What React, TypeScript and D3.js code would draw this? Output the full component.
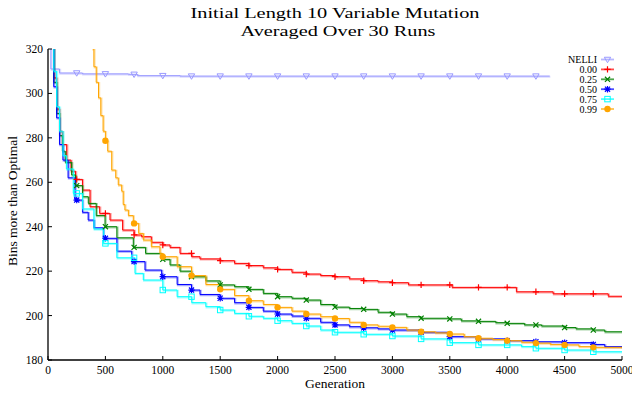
import React from "react";
import * as d3 from "d3";

const W = 632, H = 395;
const M = { left: 48, right: 622, top: 49, bottom: 360 };

const xTicks = [0, 500, 1000, 1500, 2000, 2500, 3000, 3500, 4000, 4500, 5000];
const yTicks = [180, 200, 220, 240, 260, 280, 300, 320];
const markerGens = [250, 500, 750, 1000, 1250, 1500, 1750, 2000, 2250, 2500, 2750, 3000, 3250, 3500, 3750, 4000, 4250, 4500, 4750];

const seriesNames = ["NELLI", "0.00", "0.25", "0.50", "0.75", "0.99"];
const seriesColors = ["#9999ff", "#ff0000", "#008000", "#0000ff", "#00ffff", "#ffa500"];
const seriesMarkers = ["tri", "plus", "cross", "star", "square", "circle"];

const nelliGen = [0, 25, 100, 300, 700, 780, 1150, 4370];
const nelliVal = [330, 311, 309.2, 308.8, 308.6, 308, 307.8, 307.8];

const redGen = [0, 25, 50, 75, 100, 125, 163, 200, 240, 300, 366, 450, 540, 650, 750, 816, 900, 1000, 1063, 1150, 1252, 1324, 1500, 1625, 1750, 1875, 2000, 2125, 2250, 2375, 2500, 2625, 2750, 2875, 3000, 3140, 3520, 4080, 4400, 4880, 5000];
const redVal = [345, 328, 307, 293, 283, 277, 270, 265, 261.3, 256.5, 249, 246, 243, 238.5, 236.3, 235.5, 233, 231.8, 230.7, 228, 226.5, 225.5, 224.7, 223.5, 222.5, 221.5, 220.8, 219.5, 218.7, 218, 217.5, 216.5, 215.7, 215.2, 214.8, 213.8, 212.7, 210.7, 209.8, 208.7, 208.7];

const greenGen = [0, 25, 50, 75, 100, 125, 150, 206, 240, 300, 351, 420, 497, 600, 743, 850, 990, 1063, 1150, 1250, 1375, 1500, 1625, 1750, 1875, 2000, 2125, 2250, 2375, 2500, 2625, 2750, 2875, 3000, 3125, 3250, 3500, 3600, 3750, 3900, 4000, 4150, 4300, 4500, 4600, 4750, 4850, 5000];
const greenVal = [345, 326, 305, 291, 281, 274, 269, 263.3, 258.5, 253.5, 250.5, 245, 240, 235, 230.7, 228, 225.3, 222.8, 220, 217.5, 215.6, 213.8, 213, 211.8, 210, 208.5, 207.8, 207, 205, 203.8, 203.2, 202.8, 201.5, 200.7, 199.5, 198.8, 198.5, 197.6, 197.4, 196.8, 196.5, 195.8, 195.3, 194.6, 194, 193.5, 192.7, 192.6];

const blueGen = [0, 25, 50, 75, 100, 130, 175, 235, 300, 350, 400, 482, 600, 729, 845, 990, 1125, 1250, 1324, 1500, 1625, 1750, 1875, 2000, 2125, 2250, 2375, 2500, 2625, 2750, 2875, 3000, 3250, 3500, 3750, 4000, 4250, 4500, 4750, 4850, 5000];
const blueVal = [345, 322, 303, 289, 277, 270, 262, 252, 246.5, 243, 239.5, 234.8, 229, 224.3, 220.5, 217.5, 214, 211.5, 209.5, 207.8, 205.8, 203.7, 202, 200.7, 199.8, 198.8, 197, 195.8, 195, 194.5, 194, 193.5, 192.5, 190.5, 189.5, 188.7, 188.2, 187.8, 187, 186, 185.5];

const cyanGen = [0, 25, 50, 75, 100, 130, 160, 220, 300, 400, 482, 600, 758, 830, 1000, 1125, 1252, 1375, 1500, 1625, 1750, 1875, 2000, 2125, 2250, 2375, 2491, 2750, 3000, 3250, 3500, 3750, 4000, 4125, 4250, 4500, 4750, 5000];
const cyanVal = [345, 332, 310, 294, 283, 272, 266, 255, 248, 239, 232.5, 226, 219, 216, 211.5, 208.5, 205.8, 204, 202.5, 201, 199.7, 198.8, 197.7, 196.5, 195.3, 193.5, 192.5, 191.6, 190.8, 189.5, 187.8, 186.8, 186.8, 186, 185.3, 184.5, 183.7, 183.7];

const orangeGen = [380, 390, 400, 420, 440, 460, 480, 500, 520, 555, 590, 612, 642, 655, 670, 700, 743, 790, 830, 900, 975, 1000, 1125, 1250, 1375, 1500, 1625, 1750, 1875, 2000, 2125, 2250, 2375, 2500, 2625, 2750, 2875, 3000, 3125, 3250, 3375, 3500, 3625, 3750, 3875, 4000, 4125, 4250, 4375, 4500, 4625, 4750, 5000];
const orangeVal = [330, 320, 312, 305, 298, 290, 283, 278.7, 274, 265.5, 262, 258.8, 256, 250, 247.5, 245, 241.5, 237, 234, 231, 228, 226.5, 222, 218, 214, 211.8, 209, 206.7, 205, 203.7, 202, 200.7, 199.5, 198.7, 197, 195.8, 195.2, 194.7, 193.5, 192.7, 192.2, 191.7, 190.5, 189.8, 189.2, 188.7, 188, 187.6, 187, 186.8, 186, 185.7, 185.3];

const seriesGens = [nelliGen, redGen, greenGen, blueGen, cyanGen, orangeGen];
const seriesVals = [nelliVal, redVal, greenVal, blueVal, cyanVal, orangeVal];

const x = d3.scaleLinear().domain([0, 5000]).range([M.left, M.right]);
const y = d3.scaleLinear().domain([180, 320]).range([M.bottom, M.top]);

function valueAt(gens: number[], vals: number[], g: number): number | null {
  if (g < gens[0] || g > gens[gens.length - 1]) return null;
  let v = vals[0];
  for (let i = 0; i < gens.length; i++) {
    if (gens[i] <= g) v = vals[i];
  }
  return v;
}

function Marker({ type, cx, cy, color }: { type: string; cx: number; cy: number; color: string }) {
  const s = 3.2;
  if (type === "tri")
    return <path d={`M${cx - s},${cy - s * 0.7}L${cx + s},${cy - s * 0.7}L${cx},${cy + s}Z`} fill="none" stroke={color} strokeWidth={1} />;
  if (type === "plus")
    return <path d={`M${cx - s},${cy}H${cx + s}M${cx},${cy - s}V${cy + s}`} stroke={color} strokeWidth={1.2} />;
  if (type === "cross")
    return <path d={`M${cx - s * 0.8},${cy - s * 0.8}L${cx + s * 0.8},${cy + s * 0.8}M${cx - s * 0.8},${cy + s * 0.8}L${cx + s * 0.8},${cy - s * 0.8}`} stroke={color} strokeWidth={1.2} />;
  if (type === "star")
    return <path d={`M${cx - s * 0.8},${cy - s * 0.8}L${cx + s * 0.8},${cy + s * 0.8}M${cx - s * 0.8},${cy + s * 0.8}L${cx + s * 0.8},${cy - s * 0.8}M${cx - s},${cy}H${cx + s}M${cx},${cy - s}V${cy + s}`} stroke={color} strokeWidth={1.2} />;
  if (type === "square")
    return <rect x={cx - s * 0.85} y={cy - s * 0.85} width={s * 1.7} height={s * 1.7} fill="none" stroke={color} strokeWidth={1} />;
  return <circle cx={cx} cy={cy} r={s} fill={color} />;
}

export default function App() {
  const line = d3
    .line<[number, number]>()
    .x((d) => x(d[0]))
    .y((d) => y(d[1]))
    .curve(d3.curveStepAfter);
  const font = '"Liberation Serif", "Times New Roman", "DejaVu Serif", serif';
  return (
    <svg width={W} height={H} style={{ position: "absolute", left: 0, top: 0, background: "#fff", fontFamily: font }}>
      <defs>
        <clipPath id="plot">
          <rect x={M.left} y={M.top} width={M.right - M.left} height={M.bottom - M.top} />
        </clipPath>
      </defs>
      <text x={335} y={18} textAnchor="middle" fontSize={15.5} textLength={289} lengthAdjust="spacingAndGlyphs" style={{ fontFamily: font }}>
        Initial Length 10 Variable Mutation
      </text>
      <text x={338} y={36} textAnchor="middle" fontSize={15.5} textLength={195} lengthAdjust="spacingAndGlyphs" style={{ fontFamily: font }}>
        Averaged Over 30 Runs
      </text>

      <g clipPath="url(#plot)">
        {seriesNames.map((n, i) => {
          const pts = seriesGens[i].map((g, j) => [g, seriesVals[i][j]] as [number, number]);
          return (
            <g key={n}>
              <path d={line(pts) || ""} fill="none" stroke={seriesColors[i]} strokeOpacity={0.35} strokeWidth={2} transform="translate(0.7,0.7)" />
              <path d={line(pts) || ""} fill="none" stroke={seriesColors[i]} strokeWidth={1} />
            </g>
          );
        })}
        {seriesNames.map((n, i) =>
          markerGens.map((g) => {
            const v = valueAt(seriesGens[i], seriesVals[i], g);
            if (v === null || v > 320) return null;
            return <Marker key={n + g} type={seriesMarkers[i]} cx={x(g)} cy={y(v)} color={seriesColors[i]} />;
          })
        )}
      </g>

      <line x1={M.left} x2={M.left} y1={M.top} y2={M.bottom} stroke="#000" strokeWidth={1.3} />
      <line x1={M.left} x2={M.right} y1={M.bottom} y2={M.bottom} stroke="#000" strokeWidth={1.3} />
      {yTicks.map((t) => (
        <g key={"y" + t}>
          <line x1={M.left} x2={M.left + 4} y1={y(t)} y2={y(t)} stroke="#000" strokeWidth={1} />
          <text x={M.left - 5} y={y(t) + 4} textAnchor="end" fontSize={11.5} style={{ fontFamily: font }}>
            {t}
          </text>
        </g>
      ))}
      {xTicks.map((t) => (
        <g key={"x" + t}>
          <line x1={x(t)} x2={x(t)} y1={M.bottom} y2={M.bottom - 4} stroke="#000" strokeWidth={1} />
          <text x={x(t)} y={374} textAnchor="middle" fontSize={11.5} style={{ fontFamily: font }}>
            {t}
          </text>
        </g>
      ))}
      <text x={335} y={388} textAnchor="middle" fontSize={13.5} style={{ fontFamily: font }}>
        Generation
      </text>
      <text transform="translate(17,201) rotate(-90)" textAnchor="middle" fontSize={13.5} style={{ fontFamily: font }}>
        Bins more than Optimal
      </text>

      {seriesNames.map((n, i) => {
        const ly = 59.5 + i * 9.9;
        return (
          <g key={"lg" + n}>
            <text x={597} y={ly + 3.5} textAnchor="end" fontSize={10} style={{ fontFamily: font }}>
              {n}
            </text>
            <line x1={601} x2={614} y1={ly} y2={ly} stroke={seriesColors[i]} strokeWidth={1.8} strokeOpacity={0.7} />
            <Marker type={seriesMarkers[i]} cx={607.5} cy={ly} color={seriesColors[i]} />
          </g>
        );
      })}
    </svg>
  );
}
